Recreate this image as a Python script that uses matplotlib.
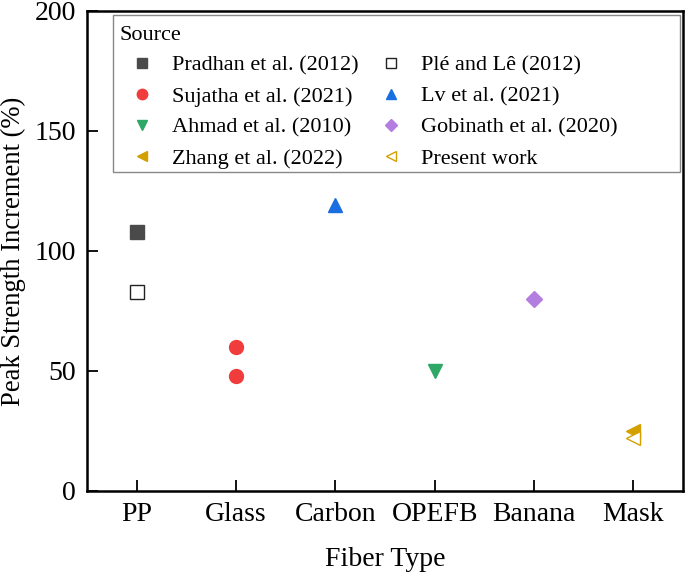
import matplotlib
matplotlib.use("Agg")
import matplotlib.pyplot as plt
from matplotlib.patches import Rectangle

plt.rcParams['font.family'] = ['Liberation Serif', 'DejaVu Serif']
plt.rcParams['mathtext.fontset'] = 'stix'

categories = ["PP", "Glass", "Carbon", "OPEFB", "Banana", "Mask"]

# series: label, category, values
pradhan_cat = ["PP"];      pradhan_val = [108]
ple_cat = ["PP"];          ple_val = [83]
sujatha_cat = ["Glass", "Glass"]; sujatha_val = [60, 48]
lv_cat = ["Carbon"];       lv_val = [119]
ahmad_cat = ["OPEFB"];     ahmad_val = [50]
gobinath_cat = ["Banana"]; gobinath_val = [80]
zhang_cat = ["Mask"];      zhang_val = [25]
present_cat = ["Mask"];    present_val = [22]

series = [
    ("Pradhan et al. (2012)", pradhan_cat, pradhan_val, "s", "#4a4a4a", True),
    ("Sujatha et al. (2021)", sujatha_cat, sujatha_val, "o", "#f03c3c", True),
    ("Ahmad et al. (2010)", ahmad_cat, ahmad_val, "v", "#2da866", True),
    ("Zhang et al. (2022)", zhang_cat, zhang_val, "<", "#d4a000", True),
    ("Plé and Lê (2012)", ple_cat, ple_val, "s", "#222222", False),
    ("Lv et al. (2021)", lv_cat, lv_val, "^", "#1a6fe0", True),
    ("Gobinath et al. (2020)", gobinath_cat, gobinath_val, "D", "#b47ee0", True),
    ("Present work", present_cat, present_val, "<", "#d4a000", False),
]

W, H = 686, 580
fig = plt.figure(figsize=(W/100, H/100), dpi=100)
ax = fig.add_axes([87/W, 1 - 491/H, (683-87)/W, (491-11)/H])

for label, cats, vals, m, c, filled in series:
    xs = [categories.index(k) for k in cats]
    if filled:
        ax.plot(xs, vals, linestyle="none", marker=m, markersize=10 if m != "D" else 8.5,
                color=c, markeredgecolor=c, label=label)
    else:
        ax.plot(xs, vals, linestyle="none", marker=m, markersize=10,
                markerfacecolor="white", markeredgecolor=c, markeredgewidth=1.0,
                label=label)

ax.set_xlim(-0.5, 5.5)
ax.set_ylim(0, 200)
ax.set_xticks(range(len(categories)))
ax.set_xticklabels(categories)
ax.set_yticks([0, 50, 100, 150, 200])
ax.tick_params(direction="in", length=8, width=1.3, labelsize=20, pad=8)
for s in ax.spines.values():
    s.set_linewidth(1.8)
ax.set_xlabel("Fiber Type", fontsize=20, labelpad=14)
ax.set_ylabel("Peak Strength Increment (%)", fontsize=19.2, labelpad=6)

# legend frame drawn as a plain box
frame = Rectangle((113/W, 1 - 172/H), (680-113)/W, (172-15)/H,
                  transform=fig.transFigure, facecolor="white",
                  edgecolor="#888888", linewidth=1.0, zorder=4, clip_on=False)
ax.add_artist(frame)

leg = ax.legend(ncol=2, title="Source", loc="upper left",
                bbox_to_anchor=((113-87)/596, (491-19)/480), borderaxespad=0,
                fontsize=16, title_fontsize=16, frameon=False,
                markerscale=0.75,
                handletextpad=0.36, columnspacing=0.45, borderpad=0.3,
                labelspacing=0.47, handlelength=2.0)
leg._legend_box.align = "left"
leg.set_zorder(5)

fig.savefig("out.png", dpi=100)
